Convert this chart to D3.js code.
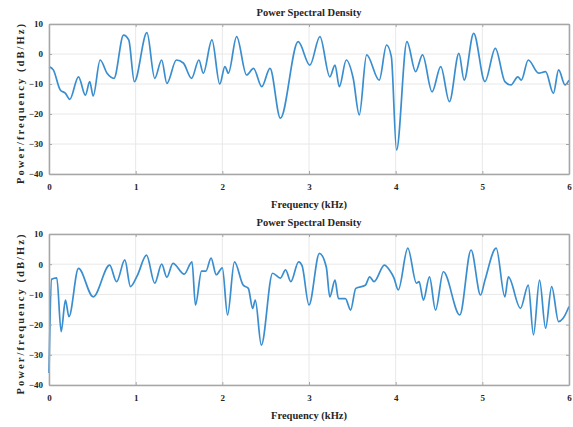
<!DOCTYPE html>
<html lang="en">
<head>
    <meta charset="UTF-8">
    <title>Power Spectral Density</title>
    <script src="https://d3js.org/d3.v7.min.js"></script>
    <style>
        body { margin: 0; background: #fff; }
        text { font-family: "Liberation Serif", "DejaVu Serif", serif; font-weight: bold; fill: #262626; }
    </style>
</head>
<body>
    <script>
        // frequency (kHz) and PSD (dB/Hz)
        const topFreq = [0, 0.05, 0.13, 0.19, 0.24, 0.34, 0.42, 0.47, 0.51, 0.59, 0.67, 0.75, 0.86, 0.92, 0.985,
            1.13, 1.22, 1.30, 1.36, 1.47, 1.55, 1.645, 1.73, 1.78, 1.88, 1.97, 2.03, 2.07, 2.165, 2.28, 2.36,
            2.455, 2.55, 2.67, 2.875, 3.01, 3.126, 3.24, 3.30, 3.35, 3.43, 3.51, 3.58, 3.665, 3.81, 3.895,
            3.95, 4.01, 4.13, 4.23, 4.31, 4.42, 4.52, 4.62, 4.73, 4.79, 4.90, 5.03, 5.15, 5.26, 5.33, 5.41,
            5.45, 5.53, 5.65, 5.73, 5.82, 5.88, 5.955, 6.0];
        const topPsd = [-4.2, -5.3, -12, -13.1, -15.1, -7.6, -13.7, -9.2, -14, -2, -6.4, -8.1, 6.3, 4.7, -9.2,
            7.1, -8.1, -2, -9.8, -2, -3, -8.1, -2, -6.4, 4.7, -10, -4.2, -6.4, 5.8, -7, -4.8,
            -10.9, -4.8, -21.4, 4.1, -3.7, 5.8, -7.6, -3.7, -10.9, -2, -8.1, -20.3, -0.3, -8.7, 3,
            -0.9, -32, 4.1, -5.9, -0.3, -12.6, -4.2, -15.9, 0.2, -8.7, 6.9, -9.2, 1.9, -9.2, -10.3, -7.6,
            -8.7, -2, -6.4, -5.9, -13.1, -5.3, -10.3, -8.7];

        const botFreq = [0, 0.03, 0.09, 0.14, 0.19, 0.23, 0.34, 0.51, 0.70, 0.78, 0.875, 0.94, 1.02, 1.125,
            1.22, 1.30, 1.36, 1.43, 1.56, 1.65, 1.69, 1.76, 1.81, 1.87, 1.93, 2.0, 2.06, 2.14, 2.24, 2.30,
            2.35, 2.38, 2.45, 2.58, 2.67, 2.73, 2.79, 2.88, 2.92, 3.0, 3.12, 3.2, 3.24, 3.30, 3.34, 3.42,
            3.48, 3.54, 3.65, 3.70, 3.75, 3.87, 3.93, 3.98, 4.03, 4.14, 4.24, 4.27, 4.32, 4.39, 4.46, 4.55,
            4.74, 4.87, 4.98, 5.03, 5.16, 5.26, 5.30, 5.44, 5.53, 5.59, 5.66, 5.73, 5.80, 5.88, 5.93, 6.0];
        const botPsd = [-36, -5, -4.5, -22.3, -11.9, -17.4, -1.4, -10.8, -0.3, -5.8, 1.4, -7.4, -3.7, 3,
            -6.3, 0, -4.3, 0.3, -3.3, 0.8, -13.5, -2.3, -2.3, 2, -3.5, -1.2, -16.8, 0.8, -6.9, -8,
            -14.6, -11.9, -26.8, -3, -4.6, -1.9, -5.8, 0.8, -0.5, -13.5, 3.6, -1, -10.8, -5.3, -11.4, -11.4,
            -15.2, -8, -7, -4.2, -5.8, -0.3, -2, -4.5, -8.5, 5.3, -6.3, -5.8, -11.9, -4.2, -15.2, -2.5,
            -16.8, 4.7, -10.2, -5.3, 5.3, -10.8, -4.2, -14.6, -6.9, -23.4, -5.3, -21.2, -7.4, -19, -18, -14];

        const xTicks = [0, 1, 2, 3, 4, 5, 6];
        const yTicks = [-40, -30, -20, -10, 0, 10];

        const width = 573;
        const height = 427;
        const left = 49, right = 569;

        const svg = d3.select("body").append("svg")
            .attr("width", width)
            .attr("height", height);

        const x = d3.scaleLinear().domain([0, 6]).range([left, right]);
        const fmt = d3.format("d");

        function panel(top, bottom, freq, psd) {
            const y = d3.scaleLinear().domain([-40, 10]).range([bottom, top]);
            const g = svg.append("g");

            // grid
            g.append("g").selectAll("line").data(xTicks).join("line")
                .attr("x1", d => x(d)).attr("x2", d => x(d))
                .attr("y1", top).attr("y2", bottom)
                .attr("stroke", "#e8e8e8").attr("stroke-width", 1);
            g.append("g").selectAll("line").data(yTicks).join("line")
                .attr("x1", left).attr("x2", right)
                .attr("y1", d => y(d)).attr("y2", d => y(d))
                .attr("stroke", "#e8e8e8").attr("stroke-width", 1);

            // the curve
            const line = d3.line()
                .x(d => x(d[0]))
                .y(d => y(d[1]))
                .curve(d3.curveMonotoneX);
            g.append("path")
                .datum(d3.zip(freq, psd))
                .attr("d", line)
                .attr("fill", "none")
                .attr("stroke", "#3a8ecf")
                .attr("stroke-width", 1.7)
                .attr("stroke-linejoin", "round");

            // axes with inward ticks (MATLAB style)
            g.append("g").attr("transform", `translate(0,${bottom})`)
                .call(d3.axisBottom(x).tickValues(xTicks).tickFormat(fmt).tickSizeInner(-3).tickSizeOuter(0).tickPadding(10));
            g.append("g").attr("transform", `translate(0,${top})`)
                .call(d3.axisTop(x).tickValues(xTicks).tickSizeInner(-3).tickSizeOuter(0).tickFormat(""));
            g.append("g").attr("transform", `translate(${left},0)`)
                .call(d3.axisLeft(y).tickValues(yTicks).tickFormat(fmt).tickSizeInner(-3).tickSizeOuter(0).tickPadding(6));
            g.append("g").attr("transform", `translate(${right},0)`)
                .call(d3.axisRight(y).tickValues(yTicks).tickSizeInner(-3).tickSizeOuter(0).tickFormat(""));

            g.selectAll(".domain").attr("stroke", "#a6a6a6").attr("stroke-width", 1.5);
            g.selectAll(".tick line").attr("stroke", "#a6a6a6");
            g.selectAll(".tick text").attr("font-size", 9).attr("fill", "#262626")
                .attr("font-family", "Liberation Serif, serif").attr("font-weight", "bold");

            // labels
            svg.append("text")
                .attr("x", (left + right) / 2).attr("y", top - 8)
                .attr("text-anchor", "middle").attr("font-size", 10.5)
                .text("Power Spectral Density");
            svg.append("text")
                .attr("x", (left + right) / 2).attr("y", bottom + 34)
                .attr("text-anchor", "middle").attr("font-size", 10.5)
                .text("Frequency (kHz)");
            svg.append("text")
                .attr("transform", `translate(24,${(top + bottom) / 2 + 5}) rotate(-90)`)
                .attr("text-anchor", "middle").attr("font-size", 10.5)
                .attr("textLength", 160).attr("lengthAdjust", "spacing")
                .text("Power/frequency (dB/Hz)");
        }

        panel(24, 174, topFreq, topPsd);
        panel(234, 385, botFreq, botPsd);
    </script>
</body>
</html>
